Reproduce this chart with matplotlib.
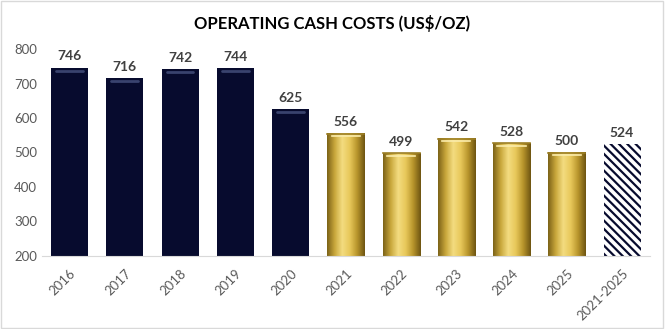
import matplotlib.pyplot as plt
import numpy as np
from matplotlib.colors import LinearSegmentedColormap

plt.rcParams['font.family'] = ['Lato', 'DejaVu Sans']
plt.rcParams['hatch.linewidth'] = 1.6

years = ["2016", "2017", "2018", "2019", "2020", "2021", "2022", "2023", "2024", "2025", "2021-2025"]
costs = [746, 716, 742, 744, 625, 556, 499, 542, 528, 500, 524]
kind = ["actual"] * 5 + ["guidance"] * 5 + ["average"]

navy = "#070b2e"
gold_map = LinearSegmentedColormap.from_list(
    "gold", ["#7d6418", "#c9a83c", "#f3dc80", "#e8c85a", "#b8952c", "#6f5612"])

fig = plt.figure(figsize=(6.65, 3.29), dpi=100)
ax = fig.add_axes([0.063, 0.222, 0.914, 0.629])

x = np.arange(len(years))
width = 0.67
base = 200
ax.set_xlim(-0.5, len(years) - 0.5)
ax.set_ylim(200, 800)

grad = np.linspace(0, 1, 64).reshape(1, -1)
for i in range(len(years)):
    h = costs[i] - base
    if kind[i] == "actual":
        ax.bar(x[i], h, width, bottom=base, color=navy, zorder=2)
        # bevel highlight near the top
        ax.plot([x[i] - width * 0.36, x[i] + width * 0.36], [costs[i] - 9, costs[i] - 9],
                color="#39436e", lw=2, solid_capstyle="round", zorder=3)
    elif kind[i] == "guidance":
        b = ax.bar(x[i], h, width, bottom=base, color="none", zorder=2)[0]
        im = ax.imshow(grad, cmap=gold_map, aspect="auto", zorder=2,
                       extent=[x[i] - width / 2, x[i] + width / 2, base, costs[i]])
        im.set_clip_path(b)
        ax.plot([x[i] - width / 2, x[i] + width / 2], [costs[i] - 1.5, costs[i] - 1.5],
                color="#9c7f25", lw=1.2, zorder=3)
        ax.plot([x[i] - width * 0.38, x[i] + width * 0.38], [costs[i] - 8, costs[i] - 8],
                color="#fbecaa", lw=1.2, zorder=3)
    else:
        ax.bar(x[i], h, width, bottom=base, color="white", edgecolor=navy,
               hatch="\\\\\\\\", linewidth=0, zorder=2)
    ax.text(x[i], costs[i] + 15, str(costs[i]), ha="center", va="bottom",
            fontsize=10, fontweight="bold", color="#404040")

ax.set_xlim(-0.5, len(years) - 0.5)
ax.set_ylim(200, 800)
ax.set_yticks(range(200, 801, 100))
ax.set_xticks(x)
ax.set_xticklabels(years, rotation=45, ha="right", rotation_mode="anchor")
ax.tick_params(axis="both", length=0, labelsize=9.5, labelcolor="#595959")
ax.tick_params(axis="x", pad=8)
for s in ["top", "right", "left"]:
    ax.spines[s].set_visible(False)
ax.spines["bottom"].set_color("#d9d9d9")

fig.text(0.5, 0.93, "OPERATING CASH COSTS (US$/OZ)", ha="center", va="center",
         fontsize=12, fontweight="bold", color="black")

# light frame around the chart area
fig.patches.append(plt.Rectangle((0.002, 0.003), 0.995, 0.993, transform=fig.transFigure,
                                 fill=False, edgecolor="#d9d9d9", lw=1))

fig.savefig("out.png", dpi=100)
